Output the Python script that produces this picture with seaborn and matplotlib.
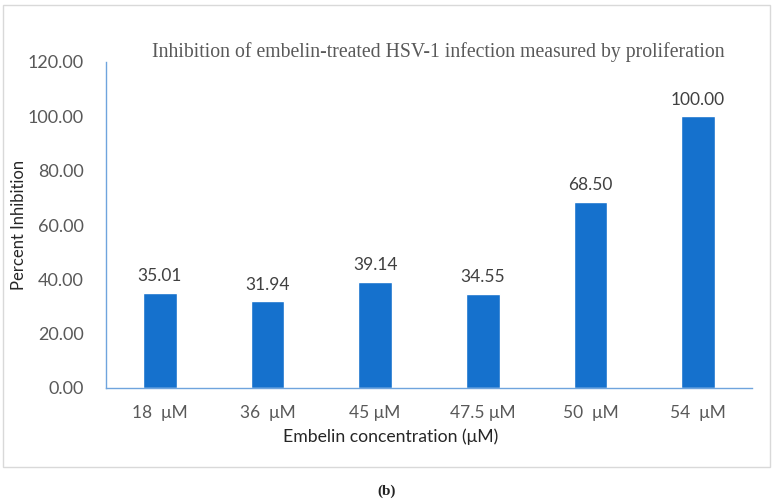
import matplotlib
matplotlib.use('Agg')
import matplotlib.pyplot as plt
import seaborn as sns
import pandas as pd
from matplotlib.patches import Rectangle

concentrations = ['18  μM', '36  μM', '45 μM', '47.5 μM', '50  μM', '54  μM']
inhibition = [35.01, 31.94, 39.14, 34.55, 68.50, 100.00]
y_ticks = [0, 20, 40, 60, 80, 100, 120]

df = pd.DataFrame({'conc': concentrations, 'inhibition': inhibition})

sns.set_style('white')
plt.rcParams['font.family'] = ['Lato', 'DejaVu Sans']

fig = plt.figure(figsize=(7.74, 5.01), dpi=100)
ax = fig.add_axes([106 / 774, 1 - 388 / 501, 646 / 774, 326 / 501])

sns.barplot(x='conc', y='inhibition', data=df, color='#1571CD', width=0.31,
            saturation=1, ax=ax)

ax.set_ylim(0, 120)
ax.set_xlim(-0.5, len(concentrations) - 0.5)
ax.set_yticks(y_ticks)
ax.set_yticklabels([f'{v:.2f}' for v in y_ticks])
ax.tick_params(axis='y', length=0, labelsize=13, colors='#595959', pad=16)
ax.tick_params(axis='x', length=0, labelsize=12.5, colors='#595959', pad=12)

for side in ['top', 'right']:
    ax.spines[side].set_visible(False)
for side in ['left', 'bottom']:
    ax.spines[side].set_color('#6FA4DD')
    ax.spines[side].set_linewidth(1.0)

# 数值标签
for i, v in enumerate(inhibition):
    ax.text(i, v + 3.2, f'{v:.2f}', ha='center', va='bottom', fontsize=12.5, color='#404040')

ax.set_xlabel('')
ax.set_ylabel('')
fig.text(391 / 774, 1 - 437 / 501, 'Embelin concentration (μM)', ha='center', va='center',
         fontsize=12.7, color='#262626')
fig.text(19 / 774, 1 - 225 / 501, 'Percent Inhibition', ha='center', va='center',
         rotation=90, fontsize=12, color='#262626')

fig.text(438 / 774, 1 - 52 / 501, 'Inhibition of embelin-treated HSV-1 infection measured by proliferation',
         ha='center', va='center', fontsize=14.2, color='#595959', family='Liberation Serif')

# 外框
fig.patches.append(Rectangle((3 / 774, 1 - 467 / 501), 767 / 774, 462 / 501,
                             transform=fig.transFigure, fill=False,
                             edgecolor='#D9D9D9', linewidth=1.0))

fig.text(387 / 774, 1 - 491 / 501, '(b)', ha='center', va='center', fontsize=11,
         family='Liberation Serif', fontweight='bold', color='#222222')

fig.savefig('out.png', dpi=100)
